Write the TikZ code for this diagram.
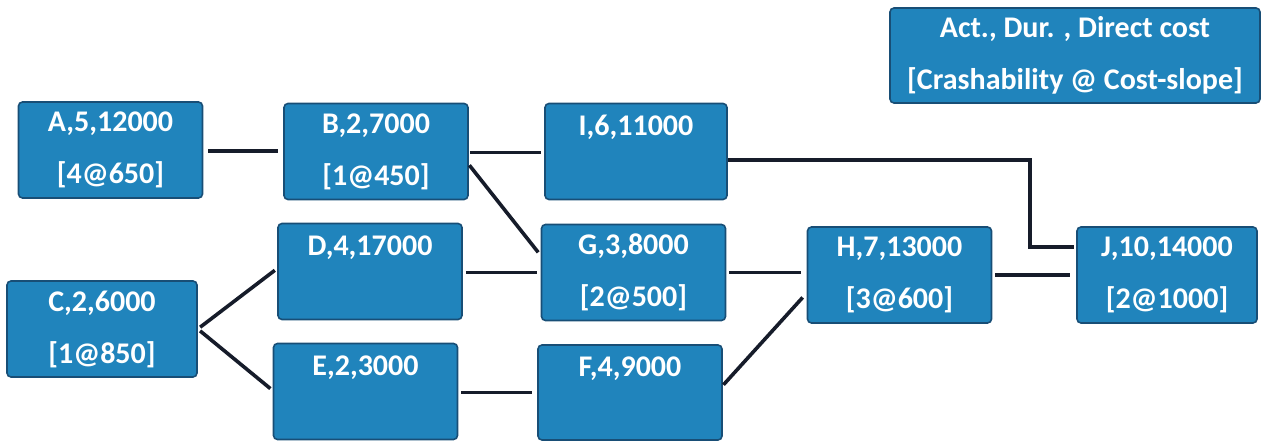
\documentclass[tikz,border=0pt]{standalone}
\usepackage{fontspec}
\setmainfont{Carlito}
\begin{document}
\begin{tikzpicture}[x=1pt,y=-1pt,
  act/.style={draw=actedge, line width=1.6pt, fill=actfill, rounded corners=4pt,
    text=white, align=center, inner sep=0pt,
    font=\fontsize{30}{52}\selectfont\bfseries,
    minimum width=184pt, minimum height=96pt},
  link/.style={draw=linkcol, line width=3.6pt},
]
\definecolor{actfill}{RGB}{32,132,188}
\definecolor{actedge}{RGB}{24,78,118}
\definecolor{linkcol}{RGB}{22,28,42}
\useasboundingbox (0,0) rectangle (1261,443);

% activity boxes: name, duration, direct cost [crashability @ cost slope]
\node[act] (A) at (110.5,150) {A,5,12000\\{[4@650]}};
\node[act] (B) at (376,151.5) {B,2,7000\\{[1@450]}};
\node[act, minimum width=190pt] (C) at (102,329) {C,2,6000\\{[1@850]}};
\node[act] (D) at (370,271.5) {D,4,17000\\\mbox{}};
\node[act] (E) at (365.5,391.5) {E,2,3000\\\mbox{}};
\node[act, minimum width=182pt] (I) at (636,151.5) {I,6,11000\\\mbox{}};
\node[act] (G) at (633.5,272.5) {G,3,8000\\{[2@500]}};
\node[act, minimum height=95pt] (F) at (630,392.5) {F,4,9000\\\mbox{}};
\node[act] (H) at (899.5,275) {H,7,13000\\{[3@600]}};
\node[act, minimum width=180pt] (J) at (1167,275) {J,10,14000\\{[2@1000]}};

% legend
\node[act, minimum width=370pt, minimum height=95pt] (key) at (1075,55.5)
  {Act., Dur. , Direct cost\\{[Crashability @ Cost-slope]}};

% precedence links
\draw[link, shorten <=5pt, shorten >=5pt] ([yshift=-1pt]A.east) -- ([yshift=-1pt]A.east -| B.west);
\draw[link, shorten <=1pt, shorten >=3pt] ([yshift=-1pt]B.east) -- ([yshift=-1pt]B.east -| I.west);
\draw[link, shorten <=1pt, shorten >=4pt] ([yshift=-13pt]B.east) -- ([yshift=17pt]G.west);
\draw[link, shorten <=3pt, shorten >=3pt] (C.east) -- ([yshift=3pt]D.west);
\draw[link, shorten <=3pt, shorten >=3pt] (C.east) -- ([yshift=1pt]E.west);
\draw[link, shorten <=3pt, shorten >=4pt] (G.west -| D.east) -- (G.west);
\draw[link, shorten <=3pt, shorten >=5pt] (F.west -| E.east) -- (F.west);
\draw[link, shorten <=3pt, shorten >=6pt] (G.east) -- (G.east -| H.west);
\draw[link, shorten <=1pt, shorten >=6pt] ([yshift=7pt]F.east) -- ([yshift=-18pt]H.west);
\draw[link, shorten <=3pt, shorten >=6pt] (H.east) -- (J.west);
\coordinate (Ibend) at (1030,0);
\draw[link, shorten >=2pt] ([yshift=-8.5pt]I.east) -- ([yshift=-8.5pt]I.east -| Ibend)
  |- ([yshift=28pt]J.west);
\end{tikzpicture}
\end{document}
